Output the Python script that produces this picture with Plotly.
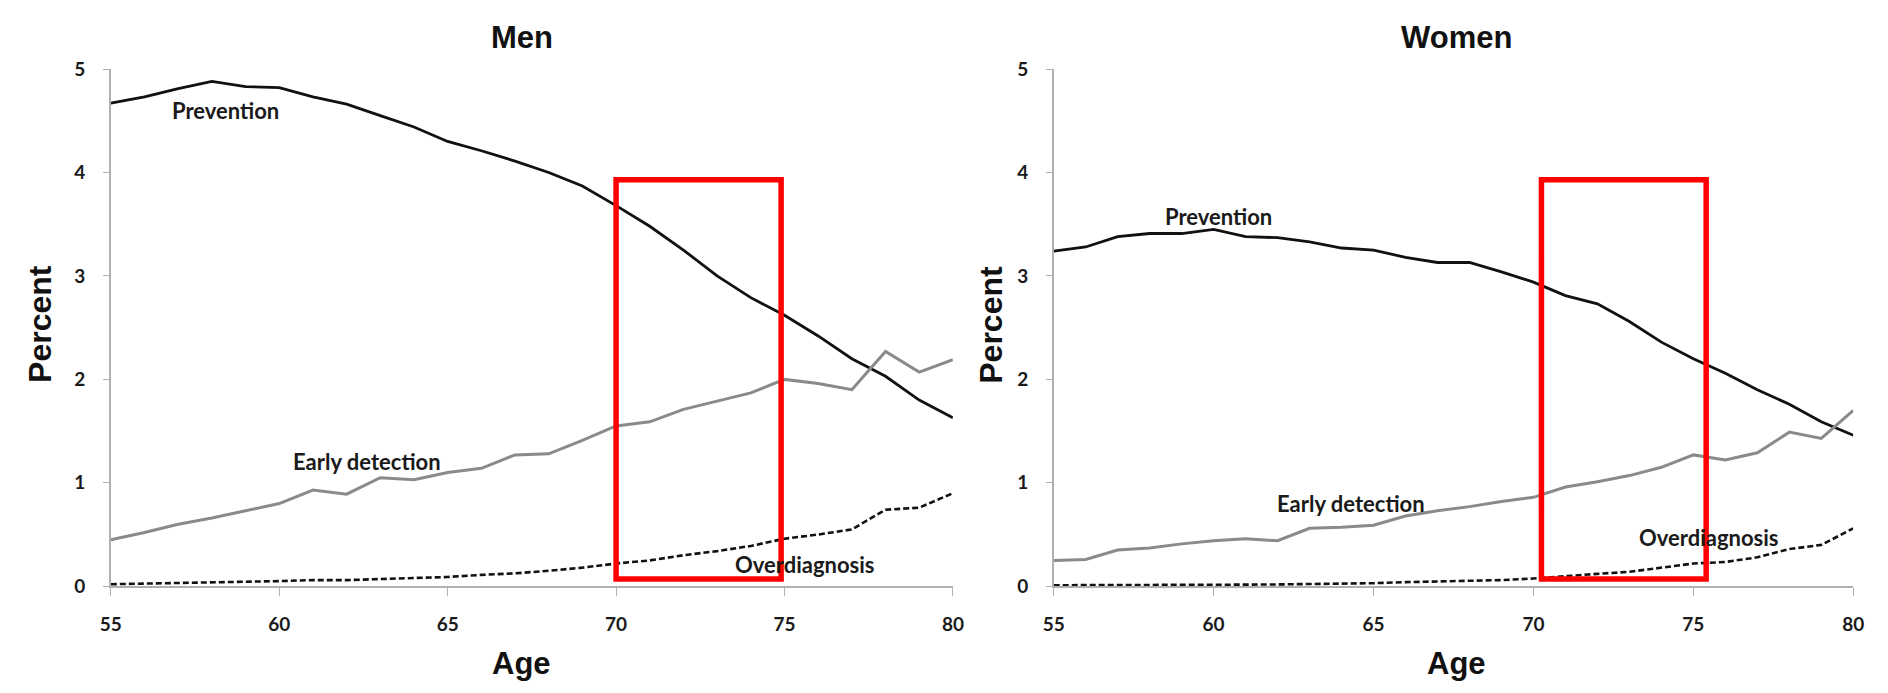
import plotly.graph_objects as go

ages = list(range(55, 81))

men_prevention = [4.67, 4.73, 4.81, 4.88, 4.83, 4.82, 4.73, 4.66, 4.55, 4.44, 4.30, 4.21, 4.11, 4.00, 3.87,
                  3.68, 3.48, 3.25, 3.00, 2.79, 2.62, 2.42, 2.20, 2.03, 1.80, 1.63]
men_early = [0.45, 0.52, 0.60, 0.66, 0.73, 0.80, 0.93, 0.89, 1.05, 1.03, 1.10, 1.14, 1.27, 1.28, 1.41,
             1.55, 1.59, 1.71, 1.79, 1.87, 2.00, 1.96, 1.90, 2.27, 2.07, 2.19]
men_over = [0.02, 0.025, 0.03, 0.035, 0.04, 0.05, 0.06, 0.06, 0.07, 0.08, 0.09, 0.11, 0.125, 0.15, 0.18,
            0.22, 0.25, 0.30, 0.34, 0.39, 0.46, 0.50, 0.55, 0.74, 0.76, 0.90]

women_prevention = [3.24, 3.28, 3.38, 3.41, 3.41, 3.45, 3.38, 3.37, 3.33, 3.27, 3.25, 3.18, 3.13, 3.13, 3.04,
                    2.94, 2.81, 2.73, 2.56, 2.36, 2.20, 2.06, 1.90, 1.76, 1.59, 1.46]
women_early = [0.25, 0.26, 0.35, 0.37, 0.41, 0.44, 0.46, 0.44, 0.56, 0.57, 0.59, 0.68, 0.73, 0.77, 0.82,
               0.86, 0.96, 1.01, 1.07, 1.15, 1.27, 1.22, 1.29, 1.49, 1.43, 1.70]
women_over = [0.01, 0.01, 0.01, 0.012, 0.013, 0.015, 0.016, 0.018, 0.02, 0.025, 0.03, 0.04, 0.045, 0.05, 0.06,
              0.075, 0.10, 0.12, 0.14, 0.18, 0.22, 0.235, 0.28, 0.36, 0.40, 0.56]

panel_titles = ["Men", "Women"]
x_ticks = [55, 60, 65, 70, 75, 80]
y_ticks = [0, 1, 2, 3, 4, 5]

men_labels = [("Prevention", 58.4, 4.6), ("Early detection", 62.6, 1.21), ("Overdiagnosis", 75.6, 0.21)]
women_labels = [("Prevention", 60.15, 3.57), ("Early detection", 64.3, 0.80), ("Overdiagnosis", 75.5, 0.47)]

men_box = (70.0, 74.9, 0.07, 3.93)
women_box = (70.25, 75.4, 0.07, 3.93)

W, H = 1888, 693
HUM = "Lato, Open Sans, sans-serif"
BOLD = "Liberation Sans, Arial, sans-serif"

fig = go.Figure()

def add_panel(xa, ya, prev, early, over):
    fig.add_trace(go.Scatter(x=ages, y=prev, mode="lines", line=dict(color="#111111", width=2.8),
                             xaxis=xa, yaxis=ya, showlegend=False, hoverinfo="skip"))
    fig.add_trace(go.Scatter(x=ages, y=early, mode="lines", line=dict(color="#8a8a8a", width=3),
                             xaxis=xa, yaxis=ya, showlegend=False, hoverinfo="skip"))
    fig.add_trace(go.Scatter(x=ages, y=over, mode="lines", line=dict(color="#111111", width=2.6, dash="6px,3px"),
                             xaxis=xa, yaxis=ya, showlegend=False, hoverinfo="skip"))

add_panel("x", "y", men_prevention, men_early, men_over)
add_panel("x2", "y2", women_prevention, women_early, women_over)

ydom = [(H - 594) / H, (H - 59) / H]
axis_common = dict(showgrid=False, zeroline=False, showline=True, linecolor="#b0b0b0", linewidth=1.5,
                   ticks="outside", tickcolor="#b0b0b0",
                   tickfont=dict(family=HUM, size=19, color="#1a1a1a", weight="bold"))

fig.update_layout(
    width=W, height=H, margin=dict(l=0, r=0, t=0, b=0),
    paper_bgcolor="white", plot_bgcolor="white",
    xaxis=dict(domain=[101 / W, 953 / W], range=[55, 80], tickvals=x_ticks, ticklen=8,
               ticklabelstandoff=12, anchor="y", **axis_common),
    yaxis=dict(domain=ydom, range=[0, 5], tickvals=y_ticks, ticklen=6, ticklabelstandoff=14,
               anchor="x", **axis_common),
    xaxis2=dict(domain=[1055 / W, 1864 / W], range=[55, 80], tickvals=x_ticks, ticklen=8,
                ticklabelstandoff=12, anchor="y2", **axis_common),
    yaxis2=dict(domain=ydom, range=[0, 5], tickvals=y_ticks, ticklen=6, ticklabelstandoff=14,
                anchor="x2", **axis_common),
)

for box, xr, yr in [(men_box, "x", "y"), (women_box, "x2", "y2")]:
    fig.add_shape(type="rect", xref=xr, yref=yr, x0=box[0], x1=box[1], y0=box[2], y1=box[3],
                  line=dict(color="#ff0000", width=5.5), fillcolor="rgba(0,0,0,0)")

for labels, xr, yr in [(men_labels, "x", "y"), (women_labels, "x2", "y2")]:
    for text, lx, ly in labels:
        fig.add_annotation(x=lx, y=ly, xref=xr, yref=yr, text=text, showarrow=False,
                           font=dict(family=HUM, size=22, color="#1a1a1a", weight="bold"))

# panel titles and x-axis titles
for title, cx in zip(panel_titles, [517, 1463]):
    fig.add_annotation(x=cx / W, y=1 - 26 / H, xref="paper", yref="paper", text="<b>" + title + "</b>",
                       showarrow=False, font=dict(family=BOLD, size=31, color="#111111"),
                       xanchor="center", yanchor="middle")
    fig.add_annotation(x=cx / W, y=1 - 674 / H, xref="paper", yref="paper", text="<b>Age</b>",
                       showarrow=False, font=dict(family=BOLD, size=31, color="#111111"),
                       xanchor="center", yanchor="middle")

for px in [30, 992]:
    fig.add_annotation(x=px / W, y=1 - 323 / H, xref="paper", yref="paper", text="<b>Percent</b>",
                       showarrow=False, textangle=-90, font=dict(family=BOLD, size=32, color="#111111"),
                       xanchor="center", yanchor="middle")

fig.write_html("out.html")
